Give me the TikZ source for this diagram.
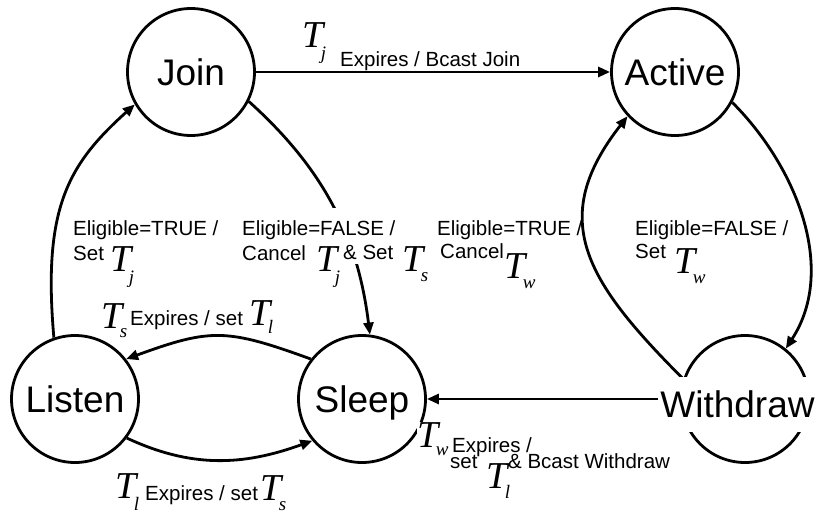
\documentclass[tikz,border=0pt]{standalone}
\usepackage{fontspec}
\setmainfont{Liberation Sans}
\newfontfamily\timesf{Liberation Serif}
\usetikzlibrary{arrows.meta}
\newcommand{\Tm}[2][10pt]{{\timesf\itshape\fontsize{38}{38}\selectfont T\kern-2.5pt\raisebox{-#1}{\fontsize{19}{19}\selectfont #2}}}
\tikzset{
  state/.style={circle, draw, line width=2.8pt, minimum size=127pt, inner sep=0pt,
    font=\fontsize{37}{37}\selectfont, text height=27pt, text depth=0pt},
  lbl/.style={inner sep=0pt, anchor=base west, font=\fontsize{20.5}{24}\selectfont},
  tl/.style={inner sep=0pt, anchor=base west},
  wbg/.style={fill=white},
  conn/.style={line width=2.8pt, -{Triangle[length=12pt,width=10pt]}},
}
\begin{document}
\begin{tikzpicture}[x=1pt,y=1pt]
\useasboundingbox (0,0) rectangle (821,-513);
% states
\node[state] (join) at (191,-72) {Join};
\node[state] (active) at (675,-72) {Active};
\node[state] (listen) at (75,-399) {Listen};
\node[state] (sleep) at (362,-399) {Sleep};
\node[state] (withdraw) at (745,-399) {};
% connectors
\draw[conn] (join) -- (active);
\draw[conn] (listen.109) .. controls +(95:130) and +(222:90) .. (join.210);
\draw[conn] (join.-27) .. controls +(-42:100) and +(97:100) .. (sleep.83);
\draw[conn] (sleep.142) .. controls +(160:90) and +(20:90) .. (listen.38);
\draw[conn] (listen.-37) .. controls +(-25:70) and +(200:75) .. (sleep.220);
\draw[conn] (withdraw.center) -- (sleep.east);
\draw[conn] (withdraw.162) .. controls +(135:140) and +(232:130) .. (active.223);
\draw[conn] (active.-28) .. controls +(-45:90) and +(57:95) .. (withdraw.51);
% Withdraw text over its circle
\node[wbg, inner xsep=2pt, inner ysep=0pt, text height=40pt, text depth=15pt,
  font=\fontsize{37}{37}\selectfont, anchor=base] (wtext) at (737.5,-417) {Withdraw};
% Join -> Active label
\node[tl] (t1) at (302,-48) {\Tm[12pt]{j}};
\node[lbl] (l1) at (340,-67) {Expires / Bcast Join};
% Listen -> Join label
\node[lbl] (b1) at (73,-235) {Eligible=TRUE /};
\node[lbl] (b2) at (73,-260) {Set};
\node[tl] (bt) at (110,-271) {\Tm[12pt]{j}};
% Join -> Sleep label
\node[lbl, wbg, text height=27pt, text depth=6pt] (c1) at (242,-235) {Eligible=FALSE /};
\node[lbl] (c2) at (242,-260) {Cancel};
\node[lbl, wbg, text height=18pt, text depth=5pt] (c3) at (343,-259) {\& Set};
\node[tl] (ct1) at (316,-271) {\Tm[12pt]{j}};
\node[tl] (ct2) at (402,-271) {\Tm{s}};
% Sleep -> Active label
\node[lbl] (d1) at (437,-235) {Eligible=TRUE /};
\node[lbl] (d2) at (440,-258) {Cancel};
\node[tl] (dt) at (504,-278) {\Tm{w}};
% Active -> Withdraw label
\node[lbl] (e1) at (635,-235) {Eligible=FALSE /};
\node[lbl] (e2) at (635,-258) {Set};
\node[tl] (et) at (674,-273) {\Tm{w}};
% Sleep -> Listen label
\node[tl, wbg] (ft1) at (101,-328) {\Tm[9pt]{s}};
\node[lbl] (f1) at (130,-325) {Expires / set};
\node[tl] (ft2) at (249,-325) {\Tm[8pt]{l}};
% Listen -> Sleep label
\node[tl] (gt1) at (115,-498) {\Tm[12pt]{l}};
\node[lbl] (g1) at (145,-500) {Expires / set};
\node[tl] (gt2) at (260,-500) {\Tm[10pt]{s}};
% Withdraw -> Sleep label
\node[tl, wbg] (ht1) at (417,-447) {\Tm[8pt]{w}};
\node[lbl] (h1) at (452,-452) {Expires /};
\node[lbl] (h2) at (450,-468) {set};
\node[tl] (ht2) at (486,-488) {\Tm[10pt]{l}};
\node[lbl] (h3) at (508,-468) {\& Bcast Withdraw};
\end{tikzpicture}
\end{document}
